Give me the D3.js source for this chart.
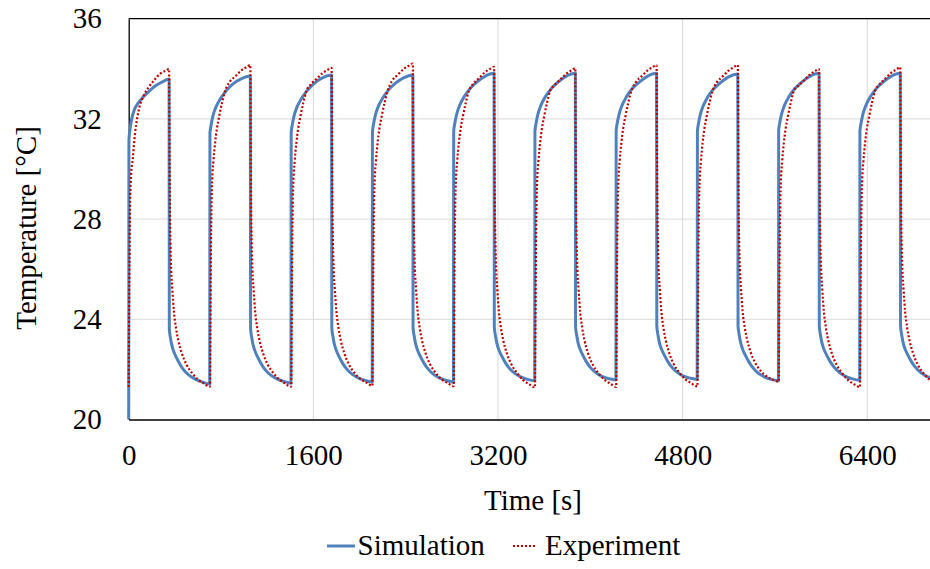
<!DOCTYPE html>
<html>
<head>
<meta charset="utf-8">
<script src="https://cdn.jsdelivr.net/npm/d3@7"></script>
<style>
  html, body { margin: 0; padding: 0; background: #ffffff; }
  svg { display: block; }
  text { font-family: "Liberation Serif", "Times New Roman", serif; fill: #000; }
</style>
</head>
<body>
<svg id="chart" width="930" height="569"></svg>
<script>
// Axis ticks
const xTicks = [0, 1600, 3200, 4800, 6400];
const yTicks = [20, 24, 28, 32, 36];
const xDomain = [0, 7000];
const yDomain = [20, 36];

// Series labels
const seriesNames = ["Simulation", "Experiment"];

// Simulated temperature [time s, temperature °C], cycle by cycle
const simulation = [
  [0,20],[2,31.16],[12,31.6],[26,32.0],[50,32.38],[80,32.62],[127,32.88],[180,33.12],[242,33.35],[300,33.5],[350,33.59],
  [352,23.62],[362,23.25],[372,23.0],[390,22.72],[416,22.45],[445,22.2],[480,21.96],[530,21.74],[580,21.6],[640,21.49],[702,21.42],
  [704,31.42],[714,31.75],[729,32.1],[754,32.45],[794,32.8],[844,33.12],[904,33.4],[974,33.6],[1054,33.71],
  [1056,23.64],[1066,23.27],[1076,23.02],[1094,22.74],[1120,22.47],[1149,22.22],[1184,21.98],[1234,21.76],[1284,21.62],[1344,21.52],[1406,21.45],
  [1408,31.45],[1418,31.78],[1433,32.12],[1458,32.47],[1498,32.82],[1548,33.14],[1608,33.42],[1678,33.64],[1758,33.75],
  [1760,23.66],[1770,23.3],[1780,23.05],[1798,22.77],[1824,22.5],[1853,22.25],[1888,22.02],[1938,21.8],[1988,21.66],[2048,21.56],[2110,21.5],
  [2112,31.47],[2122,31.8],[2137,32.14],[2162,32.49],[2202,32.84],[2252,33.16],[2312,33.43],[2382,33.64],[2462,33.75],
  [2464,23.68],[2474,23.32],[2484,23.07],[2502,22.78],[2528,22.51],[2557,22.26],[2592,22.03],[2642,21.8],[2692,21.66],[2752,21.56],[2814,21.5],
  [2816,31.5],[2826,31.83],[2841,32.17],[2866,32.52],[2906,32.88],[2956,33.2],[3016,33.47],[3086,33.7],[3166,33.82],
  [3168,23.7],[3178,23.34],[3188,23.09],[3206,22.8],[3232,22.54],[3261,22.29],[3296,22.06],[3346,21.84],[3396,21.7],[3456,21.6],[3518,21.55],
  [3520,31.5],[3530,31.83],[3545,32.17],[3570,32.52],[3610,32.88],[3660,33.2],[3720,33.47],[3790,33.7],[3870,33.82],
  [3872,23.72],[3882,23.36],[3892,23.1],[3910,22.82],[3936,22.56],[3965,22.31],[4000,22.08],[4050,21.86],[4100,21.72],[4160,21.63],[4222,21.58],
  [4224,31.52],[4234,31.85],[4249,32.18],[4274,32.53],[4314,32.89],[4364,33.21],[4424,33.47],[4494,33.7],[4574,33.82],
  [4576,23.74],[4586,23.38],[4596,23.12],[4614,22.84],[4640,22.58],[4669,22.33],[4704,22.1],[4754,21.88],[4804,21.74],[4864,21.65],[4926,21.6],
  [4928,31.5],[4938,31.83],[4953,32.17],[4978,32.52],[5018,32.88],[5068,33.19],[5128,33.45],[5198,33.68],[5278,33.79],
  [5280,23.74],[5290,23.38],[5300,23.12],[5318,22.83],[5344,22.56],[5373,22.31],[5408,22.07],[5458,21.84],[5508,21.7],[5568,21.6],[5630,21.55],
  [5632,31.55],[5642,31.86],[5657,32.19],[5682,32.54],[5722,32.89],[5772,33.21],[5832,33.47],[5902,33.7],[5982,33.82],
  [5984,23.74],[5994,23.38],[6004,23.12],[6022,22.83],[6048,22.57],[6077,22.32],[6112,22.09],[6162,21.86],[6212,21.72],[6272,21.62],[6334,21.57],
  [6336,31.5],[6346,31.83],[6361,32.17],[6386,32.52],[6426,32.88],[6476,33.2],[6536,33.47],[6606,33.7],[6686,33.82],
  [6688,23.75],[6698,23.38],[6708,23.12],[6726,22.83],[6752,22.57],[6781,22.32],[6816,22.09],[6866,21.86],[6916,21.72],[6976,21.62],[7038,21.57]
];

// Measured temperature [time s, temperature °C], cycle by cycle
const experiment = [
  [0,21.3],[4,24.5],[10,28.0],[20,29.7],[35,30.4],[55,31.42],[92,32.45],[127,32.9],[170,33.25],[213,33.5],[271,33.8],[310,33.9],[350,33.99],
  [353,31.5],[357,28.5],[362,27.0],[368,26.0],[378,25.2],[392,24.3],[410,23.65],[430,23.15],[460,22.65],[500,22.2],[550,21.85],[600,21.6],[650,21.44],
  [704,21.31],[708,23.6],[712,26.4],[717,28.4],[724,29.6],[734,30.3],[749,31.05],[764,31.6],[784,32.1],[809,32.65],[834,33.1],[874,33.47],[924,33.7],[974,33.93],[1014,34.05],[1054,34.15],
  [1057,31.5],[1061,28.5],[1066,27.0],[1072,26.0],[1082,25.2],[1096,24.3],[1114,23.65],[1134,23.15],[1164,22.65],[1204,22.2],[1254,21.85],[1304,21.6],[1354,21.44],
  [1408,21.31],[1412,23.6],[1416,26.4],[1421,28.4],[1428,29.6],[1438,30.3],[1453,31.05],[1468,31.6],[1488,32.1],[1513,32.65],[1538,33.1],[1578,33.38],[1628,33.6],[1678,33.82],[1718,33.94],[1758,34.04],
  [1761,31.5],[1765,28.5],[1770,27.0],[1776,26.0],[1786,25.2],[1800,24.3],[1818,23.65],[1838,23.15],[1868,22.65],[1908,22.2],[1958,21.85],[2008,21.62],[2058,21.48],
  [2112,21.35],[2116,23.6],[2120,26.4],[2125,28.4],[2132,29.6],[2142,30.3],[2157,31.05],[2172,31.6],[2192,32.1],[2217,32.65],[2242,33.1],[2282,33.52],[2332,33.76],[2382,33.99],[2422,34.11],[2462,34.21],
  [2465,31.5],[2469,28.5],[2474,27.0],[2480,26.0],[2490,25.2],[2504,24.3],[2522,23.65],[2542,23.15],[2572,22.65],[2612,22.2],[2662,21.85],[2712,21.6],[2762,21.46],
  [2816,21.33],[2820,23.6],[2824,26.4],[2829,28.4],[2836,29.6],[2846,30.3],[2861,31.05],[2876,31.6],[2896,32.1],[2921,32.65],[2946,33.1],[2986,33.4],[3036,33.63],[3086,33.86],[3126,33.98],[3166,34.08],
  [3169,31.5],[3173,28.5],[3178,27.0],[3184,26.0],[3194,25.2],[3208,24.3],[3226,23.65],[3246,23.15],[3276,22.65],[3316,22.2],[3366,21.85],[3416,21.58],[3466,21.42],
  [3520,21.28],[3524,23.6],[3528,26.4],[3533,28.4],[3540,29.6],[3550,30.3],[3565,31.05],[3580,31.6],[3600,32.1],[3625,32.65],[3650,33.1],[3690,33.35],[3740,33.57],[3790,33.8],[3830,33.92],[3870,34.02],
  [3873,31.5],[3877,28.5],[3882,27.0],[3888,26.0],[3898,25.2],[3912,24.3],[3930,23.65],[3950,23.15],[3980,22.65],[4020,22.2],[4070,21.85],[4120,21.6],[4170,21.44],
  [4224,21.3],[4228,23.6],[4232,26.4],[4237,28.4],[4244,29.6],[4254,30.3],[4269,31.05],[4284,31.6],[4304,32.1],[4329,32.65],[4354,33.1],[4394,33.47],[4444,33.7],[4494,33.93],[4534,34.05],[4574,34.15],
  [4577,31.5],[4581,28.5],[4586,27.0],[4592,26.0],[4602,25.2],[4616,24.3],[4634,23.65],[4654,23.15],[4684,22.65],[4724,22.2],[4774,21.85],[4824,21.6],[4874,21.45],
  [4928,21.32],[4932,23.6],[4936,26.4],[4941,28.4],[4948,29.6],[4958,30.3],[4973,31.05],[4988,31.6],[5008,32.1],[5033,32.65],[5058,33.1],[5098,33.47],[5148,33.7],[5198,33.93],[5238,34.05],[5278,34.15],
  [5281,31.5],[5285,28.5],[5290,27.0],[5296,26.0],[5306,25.2],[5320,24.3],[5338,23.68],[5358,23.2],[5388,22.7],[5428,22.27],[5478,21.93],[5528,21.72],[5578,21.6],
  [5632,21.51],[5636,23.6],[5640,26.4],[5645,28.4],[5652,29.6],[5662,30.3],[5677,31.05],[5692,31.6],[5712,32.1],[5737,32.65],[5762,33.1],[5802,33.31],[5852,33.54],[5902,33.77],[5942,33.89],[5982,33.99],
  [5985,31.5],[5989,28.5],[5994,27.0],[6000,26.0],[6010,25.2],[6024,24.3],[6042,23.65],[6062,23.15],[6092,22.65],[6132,22.2],[6182,21.85],[6232,21.58],[6282,21.42],
  [6336,21.29],[6340,23.6],[6344,26.4],[6349,28.4],[6356,29.6],[6366,30.3],[6381,31.05],[6396,31.6],[6416,32.1],[6441,32.65],[6466,33.1],[6506,33.38],[6556,33.61],[6606,33.84],[6646,33.96],[6686,34.06],
  [6689,31.5],[6693,28.5],[6698,27.0],[6704,26.0],[6714,25.2],[6728,24.3],[6746,23.65],[6766,23.15],[6796,22.65],[6836,22.2],[6886,21.85],[6936,21.6],[6986,21.45],[7038,21.35]
];

const plot = { left: 128.7, top: 18.7, bottom: 419.5, right: 930 };
const simColor = "#4F81BD";
const expColor = "#C00000";

const svg = d3.select("#chart");

// 6400 s sits at x = 867.3, so the time axis runs a little past the right edge
const x = d3.scaleLinear().domain(xDomain)
  .range([plot.left, plot.left + (867.3 - plot.left) * xDomain[1] / 6400]);
const y = d3.scaleLinear().domain(yDomain).range([plot.bottom, plot.top]);

// Gridlines
const grid = svg.append("g").attr("stroke", "#D9D9D9").attr("stroke-width", 1);
grid.selectAll("line.v").data(xTicks.filter(d => d > 0)).join("line")
  .attr("class", "v")
  .attr("x1", d => x(d)).attr("x2", d => x(d))
  .attr("y1", plot.top).attr("y2", plot.bottom);
grid.selectAll("line.h").data(yTicks.filter(d => d > yDomain[0] && d < yDomain[1])).join("line")
  .attr("class", "h")
  .attr("x1", plot.left).attr("x2", plot.right)
  .attr("y1", d => y(d)).attr("y2", d => y(d));

// Top frame line
svg.append("line")
  .attr("x1", plot.left).attr("x2", plot.right)
  .attr("y1", y(yDomain[1])).attr("y2", y(yDomain[1]))
  .attr("stroke", "#000").attr("stroke-width", 1.3);

// Axes
const xAxis = svg.append("g")
  .attr("transform", `translate(0,${plot.bottom})`)
  .call(d3.axisBottom(x).tickValues(xTicks).tickFormat(d3.format("d"))
    .tickSize(0).tickSizeOuter(0).tickPadding(24.5));
const yAxis = svg.append("g")
  .attr("transform", `translate(${plot.left},0)`)
  .call(d3.axisLeft(y).tickValues(yTicks).tickFormat(d3.format("d"))
    .tickSize(0).tickSizeOuter(0).tickPadding(27));
[xAxis, yAxis].forEach(g => {
  g.select(".domain").attr("stroke", "#000").attr("stroke-width", 1.3);
  g.selectAll("text")
    .style("font-family", '"Liberation Serif", "Times New Roman", serif')
    .style("font-size", "29px").attr("fill", "#000");
});

// Data lines
svg.append("clipPath").attr("id", "plotClip")
  .append("rect").attr("x", plot.left - 2).attr("y", plot.top - 4)
  .attr("width", plot.right - plot.left + 2).attr("height", plot.bottom - plot.top + 4);

const line = d3.line().x(d => x(d[0])).y(d => y(d[1])).curve(d3.curveMonotoneX);
const lines = svg.append("g").attr("clip-path", "url(#plotClip)");
lines.append("path").datum(simulation)
  .attr("d", line).attr("fill", "none")
  .attr("stroke", simColor).attr("stroke-width", 3).attr("stroke-linejoin", "round");
lines.append("path").datum(experiment)
  .attr("d", line).attr("fill", "none")
  .attr("stroke", expColor).attr("stroke-width", 2.2).attr("stroke-dasharray", "2,2");

// Axis titles
svg.append("text")
  .attr("x", 533).attr("y", 510).attr("text-anchor", "middle")
  .style("font-size", "29px").text("Time [s]");
svg.append("text")
  .attr("transform", "translate(36,228) rotate(-90)").attr("text-anchor", "middle")
  .style("font-size", "29px").text("Temperature [°C]");

// Legend
const legend = svg.append("g");
legend.append("line").attr("x1", 327).attr("x2", 355).attr("y1", 546).attr("y2", 546)
  .attr("stroke", simColor).attr("stroke-width", 3);
legend.append("text").attr("x", 357.5).attr("y", 555).style("font-size", "29px").text(seriesNames[0]);
legend.append("line").attr("x1", 513).attr("x2", 537).attr("y1", 546).attr("y2", 546)
  .attr("stroke", expColor).attr("stroke-width", 2.2).attr("stroke-dasharray", "2,2");
legend.append("text").attr("x", 545).attr("y", 555).style("font-size", "29px").text(seriesNames[1]);
</script>
</body>
</html>
